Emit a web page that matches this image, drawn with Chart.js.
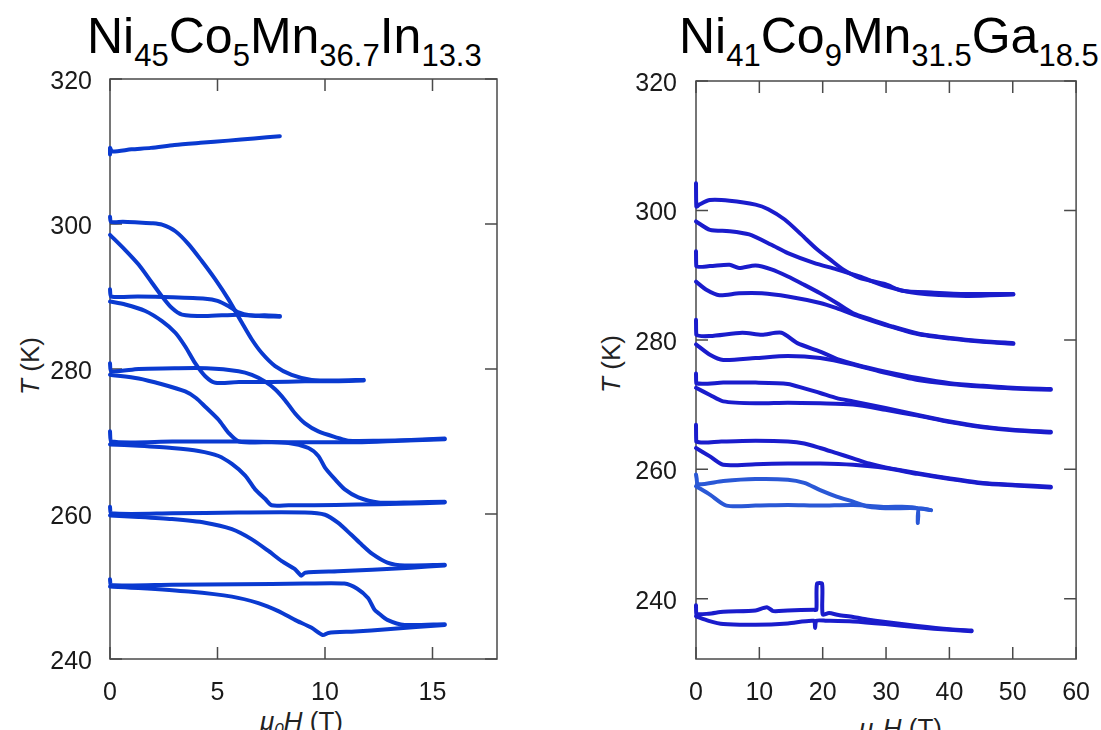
<!DOCTYPE html>
<html><head><meta charset="utf-8">
<script src="https://cdn.jsdelivr.net/npm/chart.js@4.4.1/dist/chart.umd.min.js"></script>
<style>
html,body{margin:0;padding:0;background:#fff;}
body{width:1101px;height:730px;position:relative;overflow:hidden;font-family:'Liberation Sans',Arial,sans-serif;}
canvas{position:absolute;top:0;}
.title{position:absolute;font-size:50px;line-height:50px;white-space:nowrap;color:#000;}
.title sub{font-size:31px;vertical-align:-13px;line-height:0;}
.xt{position:absolute;font-size:26px;line-height:26px;white-space:nowrap;color:#222;}
.xt sub{font-size:17px;vertical-align:-5px;line-height:0;}
.yt{position:absolute;font-size:26px;line-height:26px;white-space:nowrap;color:#222;transform:translate(-50%,-50%) rotate(-90deg);}
i{font-style:italic;}
</style>
</head><body>
<div class="title" style="left:87px;top:11px;">Ni<sub>45</sub>Co<sub>5</sub>Mn<sub>36.7</sub>In<sub>13.3</sub></div>
<div class="title" style="left:679px;top:11px;">Ni<sub>41</sub>Co<sub>9</sub>Mn<sub>31.5</sub>Ga<sub>18.5</sub></div>
<div class="yt" style="left:30px;top:366px;"><i>T</i> (K)</div>
<div class="yt" style="left:611px;top:364px;"><i>T</i> (K)</div>
<div class="xt" style="left:260px;top:708px;"><i>μ<sub>0</sub>H</i> (T)</div>
<div class="xt" style="left:859px;top:715px;"><i>μ<sub>0</sub>H</i> (T)</div>
<canvas id="cL" width="560" height="730" style="left:0;width:560px;height:730px;"></canvas>
<canvas id="cR" width="541" height="730" style="left:560px;width:541px;height:730px;"></canvas>
<script>
// ---------- Ni45Co5Mn36.7In13.3 : [mu0H (T), T (K)] ----------
const IN_X_TICKS = [0, 5, 10, 15];
const IN_Y_TICKS = [240, 260, 280, 300, 320];
const in310 = [[0,309.6],[0,310.5],[0.1,310.0],[1.0,310.3],[1.9,310.5],[3.0,310.9],[4.2,311.2],[5.5,311.5],[6.7,311.8],[7.9,312.1]];
const in300up = [[0,301.0],[0.05,300.3],[0.6,300.3],[1.33,300.2],[2.0,300.1],[2.42,299.9],[3.04,299.0],[3.66,297.2],[4.27,294.9],[4.89,292.4],[5.51,289.6],[6.13,286.4],[6.59,284.1],[7.06,282.2],[7.68,280.4],[8.45,279.2],[9.38,278.5],[10.5,278.4],[11.8,278.5]];
const in300down = [[11.8,278.4],[10.5,278.3],[9.07,278.3],[7.5,278.2],[6.0,278.2],[4.9,278.1],[4.43,279.0],[3.96,280.8],[3.5,283.1],[3.04,285.0],[2.42,286.6],[1.64,288.0],[0.71,288.9],[0,289.3]];
const in290up = [[0,291.0],[0.05,290.0],[1.3,290.0],[2.9,289.9],[4.43,289.7],[5.0,289.4],[5.5,288.7],[5.98,287.8],[6.5,287.4],[7.2,287.4],[7.9,287.3]];
const in290down = [[7.9,287.2],[6.9,287.3],[5.98,287.5],[4.43,287.3],[3.35,287.5],[2.88,288.4],[2.42,290.0],[1.95,291.9],[1.33,294.4],[0.71,296.4],[0,298.5]];
const in280up = [[0,280.8],[0.05,279.7],[1.33,280.0],[3.0,280.1],[4.5,280.1],[5.98,279.7],[6.6,279.2],[7.2,278.3],[7.68,277.2],[8.14,275.7],[8.6,273.9],[9.07,272.5],[9.69,271.4],[10.6,270.5],[11.08,270.1],[12.5,270.1],[14.0,270.2],[15.57,270.4]];
const in280down = [[15.57,270.3],[13.5,270.1],[11.5,269.9],[9.5,269.9],[7.5,269.9],[6.0,270.0],[5.51,271.2],[5.05,273.0],[4.43,274.8],[4.0,276.0],[3.5,276.9],[2.42,277.9],[1.33,278.7],[0,279.2]];
const in270up = [[0,271.4],[0.05,270.0],[2.9,270.0],[5.98,270.0],[8.3,269.8],[9.23,269.1],[9.69,268.0],[10.0,266.4],[10.46,264.8],[10.92,263.4],[11.55,262.3],[12.48,261.6],[14.0,261.6],[15.57,261.7]];
const in270down = [[15.57,261.6],[13.5,261.4],[11.5,261.3],[9.5,261.2],[8.3,261.2],[7.52,261.2],[7.21,262.1],[6.75,263.4],[6.29,265.3],[5.67,266.9],[5.05,268.0],[4.12,268.7],[2.88,269.1],[1.33,269.4],[0,269.6]];
const in260up = [[0,261.0],[0.05,260.1],[2.9,260.1],[5.98,260.2],[9.07,260.2],[10.0,259.9],[10.6,258.8],[11.2,257.2],[11.7,255.8],[12.2,254.5],[12.9,253.3],[13.7,252.9],[15.57,253.0]];
const in260down = [[15.57,252.9],[14.0,252.6],[12.2,252.3],[10.6,252.1],[9.07,251.9],[8.9,251.5],[8.6,252.4],[7.99,253.5],[7.37,254.9],[6.6,256.5],[5.67,257.9],[4.43,258.8],[2.88,259.3],[1.33,259.6],[0,259.8]];
const in250up = [[0,251.0],[0.05,250.2],[2.9,250.25],[5.98,250.3],[9.07,250.4],[10.9,250.4],[11.5,249.7],[12.0,248.4],[12.3,246.8],[12.5,246.3],[12.9,245.4],[13.7,244.7],[15.57,244.8]];
const in250down = [[15.57,244.7],[12.9,244.1],[11.4,243.8],[10.15,243.6],[9.9,243.3],[9.38,244.3],[8.6,245.4],[7.83,246.6],[6.9,247.7],[5.67,248.6],[3.66,249.3],[1.33,249.8],[0,250.0]];

// ---------- Ni41Co9Mn31.5Ga18.5 : [mu0H (T), T (K)] ----------
const GA_X_TICKS = [0, 10, 20, 30, 40, 50, 60];
const GA_Y_TICKS = [240, 260, 280, 300, 320];
const ga300up = [[0,304.2],[0.05,300.6],[0.5,300.9],[2.2,301.6],[5.3,301.5],[9.4,300.9],[11.4,300.2],[14.0,298.6],[16.6,296.3],[19.1,294.0],[21.2,292.4],[23.2,290.9],[25.8,289.6],[29.9,288.6],[32.5,287.6],[37.6,287.3],[42.7,287.1],[50.1,287.1]];
const ga300down = [[50.1,287.0],[42.7,286.8],[35.0,287.2],[29.9,288.3],[25.8,289.8],[22.2,290.9],[18.6,291.9],[14.5,293.4],[11.9,294.7],[8.4,296.3],[5.3,296.8],[2.2,297.0],[0,298.3]];
const ga291up = [[0,293.7],[0.05,291.4],[2.2,291.4],[5.3,291.6],[6.8,291.1],[9.4,291.5],[11.9,290.9],[14.5,289.8],[17.1,288.5],[19.6,287.2],[22.2,285.7],[24.8,284.1],[27.8,283.1],[30.9,282.1],[35.0,281.0],[40.1,280.3],[45.3,279.8],[50.1,279.5]];
const ga291down = [[50.1,279.4],[45.3,279.7],[40.1,280.2],[35.0,280.9],[29.9,282.3],[25.8,283.6],[22.2,284.9],[19.6,285.7],[14.5,286.7],[10.4,287.2],[6.8,287.2],[3.7,286.9],[1.7,287.7],[0,289.0]];
const ga281up = [[0,283.1],[0.05,280.8],[2.2,280.6],[7.3,281.1],[10.4,280.8],[13.5,281.1],[16.0,279.5],[19.6,278.2],[22.7,276.9],[26.3,275.9],[29.9,275.1],[35.0,274.1],[40.1,273.3],[45.3,272.9],[50.0,272.6],[56.0,272.4]];
const ga281down = [[56.0,272.3],[50.0,272.5],[45.0,272.8],[40.1,273.2],[35.0,273.8],[29.9,274.9],[24.8,276.2],[19.6,277.2],[14.5,277.5],[9.4,277.2],[4.3,276.9],[2.2,277.7],[0,279.3]];
const ga273up = [[0,274.8],[0.05,273.3],[4.3,273.4],[9.4,273.4],[14.5,273.2],[17.1,272.5],[19.6,271.8],[22.2,271.0],[24.8,270.5],[29.9,269.5],[35.0,268.4],[40.1,267.4],[45.3,266.6],[50.4,266.1],[56.0,265.8]];
const ga273down = [[56.0,265.7],[50.4,266.0],[45.3,266.5],[40.1,267.3],[35.0,268.3],[29.9,269.2],[24.8,270.0],[19.6,270.2],[14.5,270.3],[9.4,270.2],[4.3,270.5],[2.2,271.5],[0,272.6]];
const ga264up = [[0,266.9],[0.05,264.3],[4.0,264.3],[9.4,264.4],[14.5,264.3],[17.1,264.0],[19.6,263.3],[22.2,262.5],[24.8,261.7],[27.3,260.9],[29.9,260.3],[35.0,259.4],[40.1,258.6],[45.3,257.9],[50.4,257.6],[56.0,257.3]];
const ga264down = [[56.0,257.2],[50.4,257.5],[45.3,257.8],[40.1,258.5],[35.0,259.3],[29.9,260.2],[24.8,260.7],[19.6,260.9],[14.5,260.9],[9.4,260.8],[4.3,260.7],[2.2,262.0],[0,263.3]];
const ga258up = [[0,259.2],[0.1,258.6],[0.3,257.7],[4.3,258.2],[9.4,258.5],[14.5,258.4],[17.1,257.9],[19.6,256.8],[22.2,255.8],[24.8,255.0],[27.3,254.2],[29.9,254.0],[35.0,254.0],[37.1,253.7]];
const ga258down = [[37.1,253.7],[35.2,253.9],[35.0,251.7],[34.9,254.0],[29.9,254.2],[24.8,254.5],[19.6,254.4],[14.5,254.5],[9.4,254.4],[4.8,254.4],[2.2,256.1],[0,257.4]];
const ga238up = [[0,239.0],[0.05,237.7],[2.0,237.7],[4.3,238.0],[9.4,238.2],[11.2,238.7],[12.2,238.1],[14.5,238.2],[18.6,238.3],[19.0,238.3],[19.1,242.3],[19.9,242.3],[20.0,237.6],[21.0,237.8],[22.5,237.5],[24.8,237.2],[27.0,236.8],[29.9,236.4],[35.0,235.8],[40.1,235.3],[43.5,235.1]];
const ga238down = [[43.5,235.0],[40.1,235.2],[35.0,235.6],[29.9,236.1],[24.8,236.5],[20.6,236.6],[19.0,236.6],[18.8,235.5],[18.6,236.6],[14.5,236.2],[9.4,236.0],[4.3,236.1],[2.0,236.6],[0,237.3]];

const IN_COLOR = '#0a3ad0';
const GA_COLOR = '#1a1ccc';
const GA_COLOR_LIGHT = '#2a58d6';

const framePlugin = {
  id: 'frame',
  beforeDatasetsDraw(chart) {
    const {ctx, chartArea: a, scales: {x, y}} = chart;
    ctx.save();
    ctx.strokeStyle = '#4a4a4a';
    ctx.lineWidth = 1.5;
    ctx.strokeRect(a.left, a.top, a.right - a.left, a.bottom - a.top);
    const L = 12;
    ctx.beginPath();
    x.ticks.forEach(t => {
      const p = x.getPixelForValue(t.value);
      ctx.moveTo(p, a.bottom); ctx.lineTo(p, a.bottom - L);
      ctx.moveTo(p, a.top); ctx.lineTo(p, a.top + L);
    });
    y.ticks.forEach(t => {
      const p = y.getPixelForValue(t.value);
      ctx.moveTo(a.left, p); ctx.lineTo(a.left + L, p);
      ctx.moveTo(a.right, p); ctx.lineTo(a.right - L, p);
    });
    ctx.stroke();
    ctx.restore();
  }
};

function ds(pairs, color) {
  return {
    data: pairs.map(([h, t]) => ({x: h, y: t})),
    showLine: true, borderColor: color, backgroundColor: color,
    borderWidth: 4, pointRadius: 0, tension: 0.25, fill: false, clip: 10,
    borderJoinStyle: 'round', borderCapStyle: 'round'
  };
}

function makeChart(id, datasets, g) {
  const tickFont = {family: "'Liberation Sans', Arial, sans-serif", size: 25};
  return new Chart(document.getElementById(id), {
    type: 'scatter',
    data: {datasets},
    options: {
      responsive: false, animation: false, devicePixelRatio: 1,
      layout: {padding: {left: 0, right: g.padRight, top: g.top, bottom: 0}},
      plugins: {legend: {display: false}, tooltip: {enabled: false}},
      scales: {
        x: {
          type: 'linear', min: g.xmin, max: g.xmax,
          grid: {display: false}, border: {display: false},
          afterBuildTicks: s => { s.ticks = g.xticks.map(v => ({value: v})); },
          afterFit: s => { s.height = g.xh; },
          ticks: {font: tickFont, color: '#1a1a1a', padding: 11, maxRotation: 0, autoSkip: false}
        },
        y: {
          type: 'linear', min: g.ymin, max: g.ymax,
          grid: {display: false}, border: {display: false},
          afterBuildTicks: s => { s.ticks = g.yticks.map(v => ({value: v})); },
          afterFit: s => { s.width = g.yw; },
          ticks: {font: tickFont, color: '#1a1a1a', padding: g.ypad, labelOffset: 3, autoSkip: false}
        }
      }
    },
    plugins: [framePlugin]
  });
}

makeChart('cL', [
  ds(in310, IN_COLOR), ds(in300up, IN_COLOR), ds(in300down, IN_COLOR),
  ds(in290up, IN_COLOR), ds(in290down, IN_COLOR),
  ds(in280up, IN_COLOR), ds(in280down, IN_COLOR),
  ds(in270up, IN_COLOR), ds(in270down, IN_COLOR),
  ds(in260up, IN_COLOR), ds(in260down, IN_COLOR),
  ds(in250up, IN_COLOR), ds(in250down, IN_COLOR)
], {xmin: 0, xmax: 18, ymin: 240, ymax: 320, xticks: IN_X_TICKS, yticks: IN_Y_TICKS,
    yw: 110, padRight: 63, top: 79, xh: 71, ypad: 10});

makeChart('cR', [
  ds(ga300up, GA_COLOR), ds(ga300down, GA_COLOR),
  ds(ga291up, GA_COLOR), ds(ga291down, GA_COLOR),
  ds(ga281up, GA_COLOR), ds(ga281down, GA_COLOR),
  ds(ga273up, GA_COLOR), ds(ga273down, GA_COLOR),
  ds(ga264up, GA_COLOR), ds(ga264down, GA_COLOR),
  ds(ga258up, GA_COLOR_LIGHT), ds(ga258down, GA_COLOR_LIGHT),
  ds(ga238up, GA_COLOR), ds(ga238down, GA_COLOR)
], {xmin: 0, xmax: 60, ymin: 230.7, ymax: 320, xticks: GA_X_TICKS, yticks: GA_Y_TICKS,
    yw: 136, padRight: 15, top: 81, xh: 71, ypad: 11});
</script>
</body></html>
